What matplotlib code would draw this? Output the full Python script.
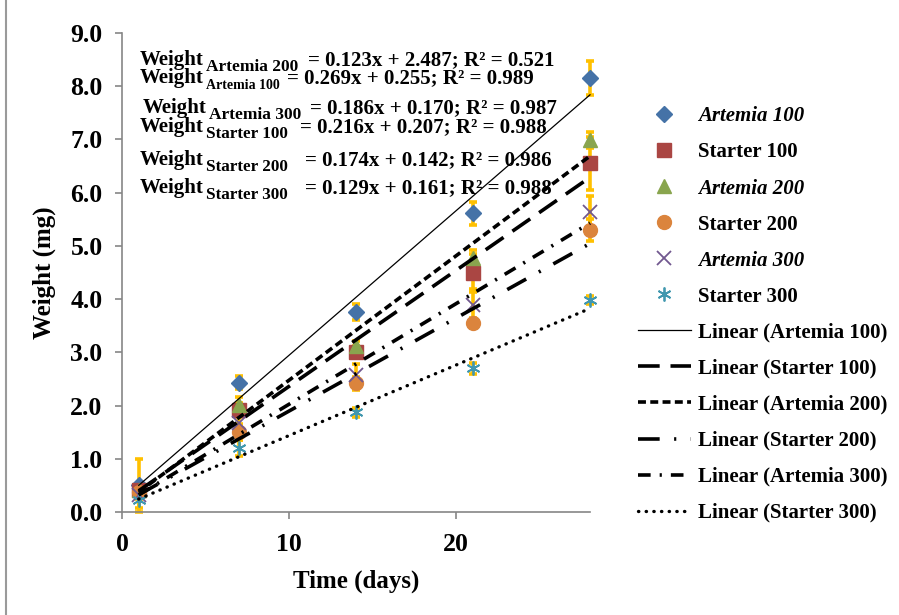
import numpy as np
import matplotlib.pyplot as plt
from matplotlib.lines import Line2D

plt.rcParams['font.family'] = ['Liberation Serif', 'DejaVu Serif']
plt.rcParams['font.weight'] = 'bold'

# ── data ────────────────────────────────────────────────────
days = [1, 7, 14, 21, 28]
series = ["Artemia 100", "Starter 100", "Artemia 200",
          "Starter 200", "Artemia 300", "Starter 300"]
artemia_100 = [0.50, 2.43, 3.75, 5.61, 8.15]
starter_100 = [0.42, 1.92, 3.01, 4.49, 6.55]
artemia_200 = [0.42, 2.01, 3.11, 4.77, 6.99]
starter_200 = [0.38, 1.51, 2.42, 3.55, 5.30]
artemia_300 = [0.32, 1.67, 2.58, 3.89, 5.64]
starter_300 = [0.22, 1.20, 1.87, 2.70, 3.98]
err_a100 = [0.50, 0.12, 0.15, 0.22, 0.32]
err_s100 = [0.10, 0.12, 0.10, 0.35, 0.50]
err_a200 = [0.10, 0.15, 0.10, 0.15, 0.15]
err_s200 = [0.10, 0.15, 0.12, 0.10, 0.20]
err_a300 = [0.08, 0.12, 0.20, 0.30, 0.30]
err_s300 = [0.15, 0.15, 0.08, 0.10, 0.08]
eq_subs = ["Artemia 200", "Artemia 100", "Artemia 300",
           "Starter 100", "Starter 200", "Starter 300"]
eq_rhs = ["= 0.123x + 2.487; R² = 0.521",
          "= 0.269x + 0.255; R² = 0.989",
          "= 0.186x + 0.170; R² = 0.987",
          "= 0.216x + 0.207; R² = 0.988",
          "= 0.174x + 0.142; R² = 0.986",
          "= 0.129x + 0.161; R² = 0.988"]

values = [artemia_100, starter_100, artemia_200, starter_200, artemia_300, starter_300]
errors = [err_a100, err_s100, err_a200, err_s200, err_a300, err_s300]

# ── styles ──────────────────────────────────────────────────
colors = ["#4572A7", "#AA4643", "#89A54E", "#DB843D", "#71588F", "#4198AF"]
markers = ["D", "s", "^", "o", "x", "*"]
msizes = [8.5, 9.5, 10, 10, 10, 10]
trend_styles = [
    dict(ls="-", lw=0.9),
    dict(ls=(0, (6, 3)), lw=2.6),
    dict(ls=(0, (2.2, 1.2)), lw=2.6),
    dict(ls=(0, (6, 4, 0.6, 4)), lw=2.6),
    dict(ls=(0, (3.5, 2.5, 0.6, 2.5)), lw=2.6),
    dict(ls=(0, (0.1, 2.2)), lw=2.4, dash_capstyle="round"),
]

W, H = 899, 615
fig = plt.figure(figsize=(W / 100, H / 100), dpi=100)
ax = fig.add_axes([122 / W, 1 - 512 / H, 468 / W, 479 / H])

x = np.array(days, dtype=float)
handles_m, handles_l = [], []
for i, name in enumerate(series):
    y = np.array(values[i])
    ax.errorbar(x, y, yerr=errors[i], fmt="none", ecolor="#FFC000",
                elinewidth=2.6, capsize=3, capthick=2.6, zorder=2, clip_on=False)
    mk = markers[i]
    kw = dict(color=colors[i], markersize=msizes[i], linestyle="none")
    if mk in ("x", "*"):
        kw.update(markeredgewidth=1.3)
        if mk == "*":
            mk = (6, 2, 0)
    ax.plot(x, y, marker=mk, zorder=3, clip_on=False, **kw)
    handles_m.append(Line2D([], [], marker=mk, **kw))

# linear trendlines, least squares like Excel
for i, name in enumerate(series):
    slope, icpt = np.polyfit(x, values[i], 1)
    xs = np.array([days[0], days[-1]])
    ax.plot(xs, slope * xs + icpt, color="black", zorder=4, clip_on=False,
            **trend_styles[i])
    handles_l.append(Line2D([], [], color="black", **trend_styles[i]))

ax.set_xlim(0, 28)
ax.set_ylim(0, 9)
ax.set_xticks([0, 10, 20])
ax.set_yticks(np.arange(0, 9.1, 1))
ax.set_yticklabels([f"{v:.1f}" for v in np.arange(0, 9.1, 1)])
for s in ("top", "right"):
    ax.spines[s].set_visible(False)
for s in ("left", "bottom"):
    ax.spines[s].set_color("#868686")
    ax.spines[s].set_linewidth(1.2)
ax.tick_params(colors="#868686", labelcolor="black", labelsize=18.5,
               length=5, width=1.2, direction="out")
ax.tick_params(axis="x", pad=10)
ax.tick_params(axis="y", pad=9)
ax.set_xlabel("Time (days)", fontsize=18, fontweight="bold", labelpad=10)
ax.set_ylabel("Weight (mg)", fontsize=18, fontweight="bold", labelpad=10)

# equation labels (Excel trendline boxes): left x, baseline y, "=" x in pixels
eq_pos = [(140, 65, 308), (140, 83, 287), (143, 113, 310),
          (140, 132, 300), (140, 165, 305), (140, 193, 305)]
sub_sizes = [12.5, 10, 12.5, 12.3, 12.3, 12.3]
for sub, rhs, (xl, yb, xe), ss in zip(eq_subs, eq_rhs, eq_pos, sub_sizes):
    t = fig.text(xl / W, 1 - yb / H, "Weight", fontsize=15,
                 fontweight="bold", va="baseline", ha="left")
    ax.annotate(sub, xy=(1, 0), xycoords=t, xytext=(2, -1),
                textcoords="offset pixels", fontsize=ss,
                fontweight="bold", va="baseline", ha="left")
    fig.text(xe / W, 1 - yb / H, rhs, fontsize=15, fontweight="bold",
             va="baseline", ha="left")

labels = list(series) + [f"Linear ({s})" for s in series]
leg = fig.legend(handles_m + handles_l, labels, loc="upper left",
                 bbox_to_anchor=(628 / W, 1 - 96 / H), frameon=False,
                 prop=dict(size=15, weight="bold"), handlelength=2.5,
                 handletextpad=0.35, labelspacing=0.77, borderpad=0)
for t in leg.get_texts()[:6]:
    if t.get_text().startswith("Artemia"):
        t.set_fontstyle("italic")

fig.add_artist(Line2D([5.5 / W, 5.5 / W], [0, 1], color="#9a9a9a", lw=1.5,
                      transform=fig.transFigure))

fig.savefig("out.png", dpi=100)
